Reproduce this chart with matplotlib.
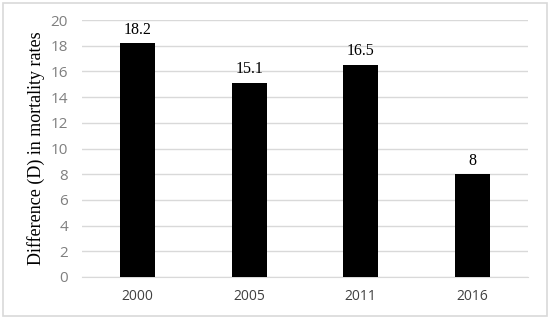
import matplotlib.pyplot as plt
from matplotlib.patches import Rectangle

# Chart data
YEARS = ["2000", "2005", "2011", "2016"]
DIFFERENCE = [18.2, 15.1, 16.5, 8]
VALUE_LABELS = ["18.2", "15.1", "16.5", "8"]
Y_TICKS = list(range(0, 21, 2))

fig = plt.figure(figsize=(5.5, 3.19), dpi=100)
ax = fig.add_axes([0.149, 0.1317, 0.811, 0.8053])

# Outer chart border
fig.patches.append(
    Rectangle((0.006, 0.009), 0.988, 0.982, transform=fig.transFigure,
              fill=False, edgecolor="#d9d9d9", linewidth=1.2)
)

x = range(len(YEARS))
bars = ax.bar(x, DIFFERENCE, width=0.31, color="black", zorder=3)

for rect, lbl in zip(bars, VALUE_LABELS):
    ax.annotate(lbl, (rect.get_x() + rect.get_width() / 2, rect.get_height()),
                xytext=(0, 4), textcoords="offset points", ha="center", va="bottom",
                family="Liberation Serif", fontsize=11.5, color="black")

ax.set_xlim(-0.5, len(YEARS) - 0.5)
ax.set_ylim(0, 20)
ax.set_yticks(Y_TICKS)
ax.set_xticks(list(x))
ax.set_xticklabels(YEARS)

ax.grid(True, axis="y", color="#d9d9d9", linewidth=1, zorder=0)
for side in ("top", "right", "left"):
    ax.spines[side].set_visible(False)
ax.spines["bottom"].set_color("#d9d9d9")
ax.tick_params(axis="both", length=0)
ax.tick_params(axis="x", pad=9, labelsize=10, colors="#404040")
ax.tick_params(axis="y", pad=10, labelsize=11, colors="#7f7f7f")
for t in ax.get_xticklabels() + ax.get_yticklabels():
    t.set_family("Open Sans")

ax.set_ylabel("Difference (D) in mortality rates", family="Liberation Serif",
              fontsize=13, color="black", labelpad=4)

fig.savefig("out.png", dpi=100)
